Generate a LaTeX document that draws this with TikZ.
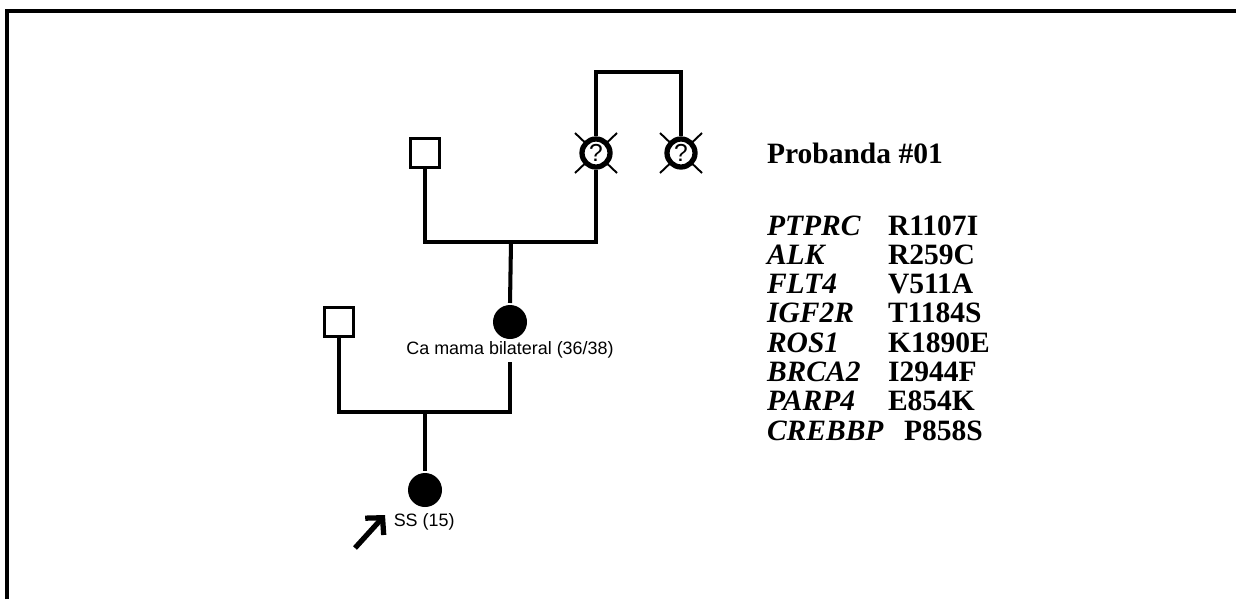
\documentclass[tikz,border=0pt]{standalone}
\usepackage{fontspec}
\setmainfont{Liberation Serif}
\setsansfont{Liberation Sans}
\usetikzlibrary{arrows.meta,positioning,calc,backgrounds}

\begin{document}
\begin{tikzpicture}[x=0.02cm, y=-0.02cm, every path/.style={line width=2.3pt},
	male/.style={draw, rectangle, minimum size=0.59cm, inner sep=0pt, line width=1.9pt, fill=white},
	affected/.style={circle, fill=black, minimum size=0.68cm, inner sep=0pt},
	unknown/.style={draw, circle, minimum size=0.56cm, inner sep=0pt, line width=3pt, fill=white, font=\sffamily\fontsize{14}{14}\selectfont},
	lbl/.style={font=\sffamily\fontsize{10.2}{12}\selectfont, inner sep=1pt},
	gene/.style={anchor=base west, inner sep=0pt, font=\bfseries\itshape\fontsize{16.8}{20}\selectfont},
	mut/.style={anchor=base west, inner sep=0pt, font=\bfseries\fontsize{16.8}{20}\selectfont}]
	\useasboundingbox (0,0) rectangle (1236,599);
	\draw[line width=1.8pt] (7,599) -- (7,11) -- (1236,11);
	
	% generation I / II
	\node[male] (gf) at (425,153) {};
	\node[unknown] (gm) at (596,153) {?};
	\node[unknown] (gs) at (681,153) {?};
	\begin{scope}[on background layer]
		\foreach \n in {gm,gs}{
			\draw[line width=1.1pt] (\n.center) ++(-21,-20) -- ++(42,40);
			\draw[line width=1.1pt] (\n.center) ++(21,-20) -- ++(-42,40);}
	\end{scope}
	\coordinate (ggbar) at (681,72);
	\coordinate (gpbar) at (511,242);
	\draw (gm.north) |- (ggbar) -- (gs.north);
	\draw (gf.south) |- (gpbar) -| (gm.south);
	%
	\node[affected] (mo) at (510,322) {};
	\node[lbl] (molbl) at (510,350) {Ca mama bilateral (36/38)};
	\node[male] (fa) at (339,322) {};
	\draw (gpbar) -- (mo.north);
	%
	% proband
	\coordinate (pbar) at (425,412);
	\node[affected] (pb) at (425,490) {};
	\node[lbl, anchor=west] (pblbl) at (390,522) {SS (15)};
	\draw (fa.south) |- (pbar) -| (molbl.south);
	\draw (pbar) -- (pb.north);
	\coordinate (arrtail) at (355,548);
	\coordinate (arrtip) at (385,515);
	\draw[line width=3pt, -{Straight Barb[length=2.4mm, width=5mm]}] (arrtail) -- (arrtip);
	
	% variants
	\node[mut] (title) at (765,163) {Probanda \#01};
	\foreach \g/\m [count=\i from 0] in {PTPRC/R1107I, ALK/R259C, FLT4/V511A, IGF2R/T1184S, ROS1/K1890E, BRCA2/I2944F, PARP4/E854K}{
		\node[gene] (g\i) at (765,235+29.3*\i) {\g};
		\node[mut] (m\i) at (886,235+29.3*\i) {\m};}
	\node[gene] (g7) at (765,440) {CREBBP};
	\node[mut] (m7) at (902,440) {P858S};
\end{tikzpicture}
\end{document}
